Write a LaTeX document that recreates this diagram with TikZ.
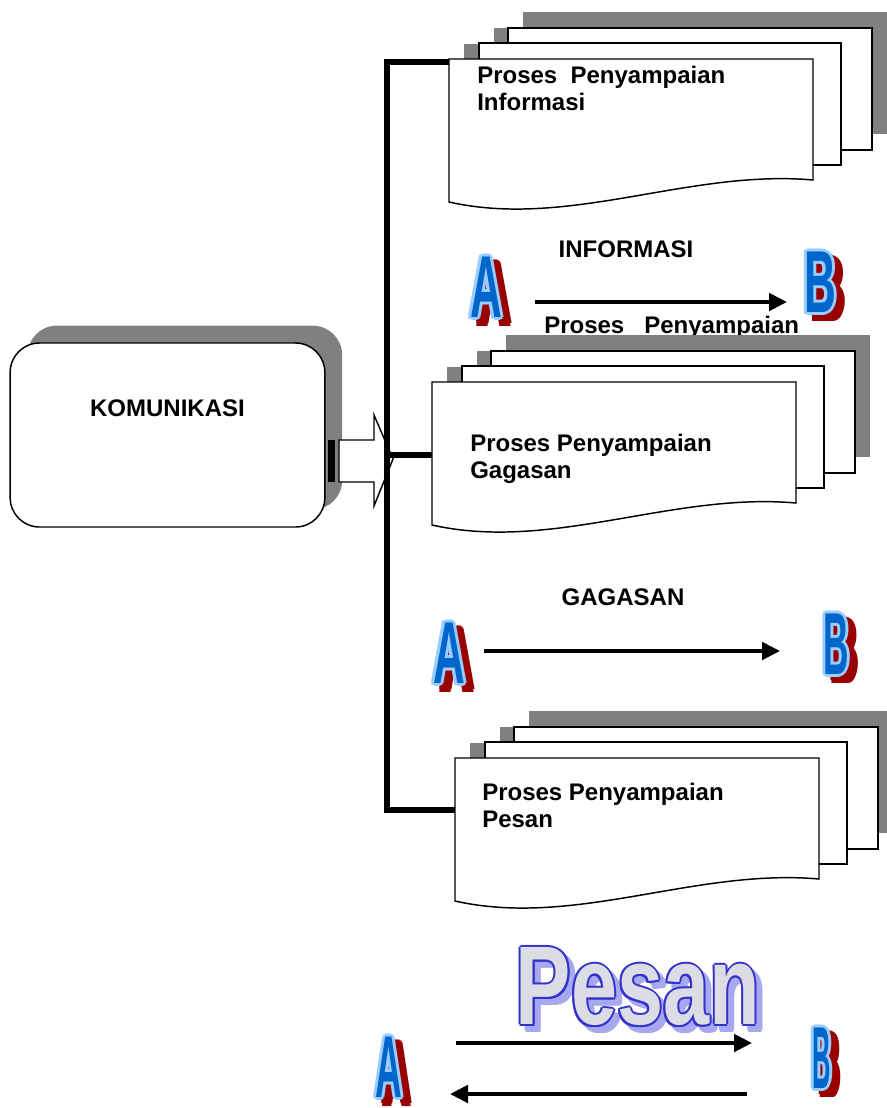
\documentclass[tikz,border=0pt]{standalone}
\usepackage{fontspec}
\setmainfont{Liberation Sans}
\usetikzlibrary{arrows.meta}
\usetikzlibrary{shadows}

\definecolor{hurufbiru}{HTML}{0066CC}
\definecolor{hurufmuda}{HTML}{99CCFF}
\definecolor{hurufmerah}{HTML}{990000}
\definecolor{pesangaris}{HTML}{3333CC}
\definecolor{pesanisi}{HTML}{DCDCE4}
\definecolor{pesanbayang}{HTML}{A8A8F0}

\tikzstyle{kotak} = [rectangle, rounded corners=22pt, minimum width=236pt, minimum height=138pt, draw=black, line width=1.1pt, fill=white,
drop shadow={shadow xshift=13pt, shadow yshift=13pt, fill=black!50, opacity=1}]
\tikzstyle{judul} = [font=\fontsize{18}{20.25}\selectfont\bfseries, inner sep=0pt]
\tikzstyle{isi} = [judul, align=left, anchor=north west]
\tikzstyle{lembar} = [draw=black, line width=1.1pt, fill=white]
\tikzstyle{bayang} = [fill=black!50]
\tikzstyle{garis} = [line width=4.5pt]
\tikzstyle{panah} = [line width=3pt, -{Triangle[length=13.5pt,width=13pt]}]
\tikzstyle{hurufgaya} = [inner sep=0pt, font=\fontsize{66}{66}\selectfont\bfseries]
\tikzstyle{pesangaya} = [inner sep=0pt, font=\fontsize{84}{84}\selectfont\bfseries]

% tumpukan lembar: #1 = pojok kiri atas lembar depan
\newcommand{\tumpukan}[1]{%
  \begin{scope}[shift={#1}]
    \fill[bayang] (74,-47) rectangle (438,75);
    \fill[bayang] (45,-31) rectangle (407,91);
    \fill[bayang] (15,-15) rectangle (379,106);
    \draw[lembar] (59,-31) rectangle (423,91);
    \draw[lembar] (30,-16) rectangle (392,106);
    \draw[lembar] (0,0) -- (364,0) -- (364,121) .. controls (240,110) and (120,170) .. (0,143) -- cycle;
  \end{scope}}

% huruf A / B: #1 nama, #2 posisi, #3 huruf, #4 skala lebar
\newcommand{\huruf}[4]{%
  \foreach \s in {0,45,...,315}
    \node[hurufgaya, text=hurufmerah, shift={(\s:3)}, xshift=6pt, yshift=-5pt] at #2 {\scalebox{#4}[1]{#3}};
  \foreach \s in {0,45,...,315}
    \node[hurufgaya, text=hurufmuda, shift={(\s:3)}] at #2 {\scalebox{#4}[1]{#3}};
  \node[hurufgaya, text=hurufbiru] (#1) at #2 {\scalebox{#4}[1]{#3}};
}

\begin{document}
\begin{tikzpicture}[x=0.75pt, y=-0.75pt]
  \useasboundingbox (0,0) rectangle (887,1108);

  \node(komunikasi)[kotak, judul, text height=13pt, text depth=41.5pt] at (167.5,435) {KOMUNIKASI};

  % panah blok
  \fill[black] (328,440) rectangle (335,482);
  \draw[lembar] (339,440) -- (374,440) -- (374,415) -- (393,459) -- (374,506) -- (374,482) -- (339,482) -- cycle;

  % informasi
  \tumpukan{(449,59)}
  \node(infoteks)[isi] at (477,65.5) {Proses\ \ Penyampaian\\Informasi};
  \node(informasi)[judul, anchor=base] at (626,257) {INFORMASI};
  \node(prosesteks)[judul, anchor=base west] at (544,333) {Proses\ \ \ Penyampaian};
  \huruf{A1}{(486,287)}{A}{0.5}
  \huruf{B1}{(820,282)}{B}{0.5}
  \coordinate (a1) at (535,302);
  \coordinate (b1) at (787,302);
  \draw[panah] (a1) -- (b1);

  % gagasan
  \tumpukan{(432,382)}
  \node(gagasanteks)[isi] at (470,433.5) {Proses Penyampaian\\Gagasan};
  \node(gagasan)[judul, anchor=base] at (623,605) {GAGASAN};
  \huruf{A2}{(449,653)}{A}{0.5}
  \huruf{B2}{(836,644)}{B}{0.4}
  \coordinate (a2) at (484,651);
  \coordinate (b2) at (780,651);
  \draw[panah] (a2) -- (b2);

  % pesan
  \tumpukan{(455,758)}
  \node(pesanteks)[isi] at (482,782.5) {Proses Penyampaian\\Pesan};
  \foreach \s in {0,45,...,315}
    \node[pesangaya, text=pesanbayang, shift={(\s:2)}, xshift=4.5pt, yshift=-4.5pt] at (638,987) {\scalebox{0.74}[1]{Pesan}};
  \foreach \s in {0,45,...,315}
    \node[pesangaya, text=pesangaris, shift={(\s:2)}] at (638,987) {\scalebox{0.74}[1]{Pesan}};
  \node(pesan)[pesangaya, text=pesanisi] at (638,987) {\scalebox{0.74}[1]{Pesan}};
  \huruf{A3}{(389,1067)}{A}{0.42}
  \huruf{B3}{(822,1058)}{B}{0.29}
  \coordinate (a3) at (456,1043);
  \coordinate (b3) at (752,1043);
  \coordinate (b4) at (747,1094);
  \coordinate (a4) at (450,1094);
  \draw[panah] (a3) -- (b3);
  \draw[panah] (b4) -- (a4);

  % garis cabang
  \coordinate (infokiri) at (449,62);
  \coordinate (gagasankiri) at (432,455);
  \coordinate (pesankiri) at (455,810);
  \coordinate (cabang) at (387,455);
  \draw[garis] (infokiri) -- (infokiri -| cabang) -- (pesankiri -| cabang) -- (pesankiri);
  \draw[garis] (cabang) -- (gagasankiri);

\end{tikzpicture}
\end{document}
